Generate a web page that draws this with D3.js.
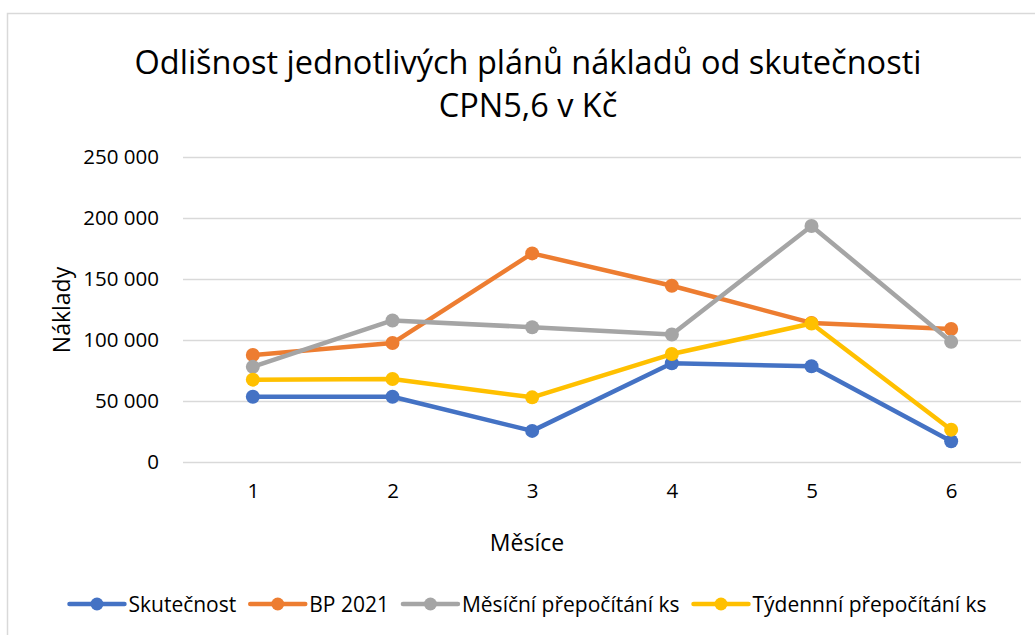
<!DOCTYPE html>
<html>
<head>
<meta charset="utf-8">
<script src="https://cdn.jsdelivr.net/npm/d3@7"></script>
<style>
  body { margin: 0; background: #fff; }
  text { font-family: "Open Sans", "Noto Sans", sans-serif; fill: #000; }
</style>
</head>
<body>
<div id="chart"></div>
<script>
// ---------------- data ----------------
const months = [1, 2, 3, 4, 5, 6];
const skutecnost = [53500, 53500, 25500, 81000, 78500, 17000];
const bp2021 = [87700, 97500, 171000, 144500, 114000, 109000];
const mesicni = [78000, 116000, 110500, 104500, 193500, 98500];
const tydenni = [67500, 68000, 53000, 88500, 113500, 26500];
const yTicks = [0, 50000, 100000, 150000, 200000, 250000];
const seriesNames = ['Skutečnost', 'BP 2021', 'Měsíční přepočítání ks', 'Týdennní přepočítání ks'];

const colors = ['#4472C4', '#ED7D31', '#A5A5A5', '#FFC000'];
const series = [skutecnost, bp2021, mesicni, tydenni].map((vals, i) => ({
  name: seriesNames[i], color: colors[i],
  points: vals.map((v, j) => ({ m: months[j], v: v }))
}));

const totalWidth = 1035, totalHeight = 635;
const plot = { left: 183, right: 1021, top: 157, bottom: 462 };

const svg = d3.select('#chart').append('svg')
  .attr('width', totalWidth)
  .attr('height', totalHeight);

// chart frame
svg.append('rect')
  .attr('x', 7.5).attr('y', 13.5)
  .attr('width', 1100).attr('height', 700)
  .attr('fill', '#fff')
  .attr('stroke', '#d9d9d9')
  .attr('stroke-width', 1.5);

// ---------------- scales ----------------
const xScale = d3.scalePoint()
  .domain(months)
  .range([plot.left, plot.right])
  .padding(0.5);

const yScale = d3.scaleLinear()
  .domain([0, 250000])
  .range([plot.bottom, plot.top]);

const czLocale = d3.formatLocale({ decimal: ',', thousands: ' ', grouping: [3], currency: ['', ' Kč'] });
const fmt = czLocale.format(',d');

// ---------------- gridlines + y axis ----------------
const yAxis = d3.axisLeft(yScale)
  .tickValues(yTicks)
  .tickSize(-(plot.right - plot.left))
  .tickPadding(24)
  .tickFormat(fmt);

const yAxisView = svg.append('g')
  .attr('transform', 'translate(' + plot.left + ',0)')
  .call(yAxis);
yAxisView.select('.domain').remove();
yAxisView.selectAll('line').attr('stroke', '#d9d9d9').attr('stroke-width', 1.5);
yAxisView.selectAll('text')
  .style('font-family', '"Open Sans", sans-serif')
  .style('font-size', '20.5px')
  .attr('fill', '#000');

// ---------------- x axis ----------------
const xAxis = d3.axisBottom(xScale).tickSize(0).tickPadding(21);
const xAxisView = svg.append('g')
  .attr('transform', 'translate(0,' + plot.bottom + ')')
  .call(xAxis);
xAxisView.select('.domain').remove();
xAxisView.selectAll('text')
  .style('font-family', '"Open Sans", sans-serif')
  .style('font-size', '20.5px')
  .attr('fill', '#000');

// ---------------- titles ----------------
const title = svg.append('text')
  .attr('x', 528).attr('text-anchor', 'middle')
  .style('font-size', '32.5px');
title.append('tspan').attr('x', 528).attr('y', 74).text('Odlišnost jednotlivých plánů nákladů od skutečnosti');
title.append('tspan').attr('x', 528).attr('y', 117).text('CPN5,6 v Kč');

svg.append('text')
  .attr('x', 527).attr('y', 551)
  .attr('text-anchor', 'middle')
  .style('font-size', '23px')
  .text('Měsíce');

svg.append('text')
  .attr('transform', 'translate(70,310) rotate(-90)')
  .attr('text-anchor', 'middle')
  .style('font-size', '23px')
  .text('Náklady');

// ---------------- lines ----------------
const line = d3.line()
  .x(d => xScale(d.m))
  .y(d => yScale(d.v));

const seriesGroups = svg.append('g')
  .selectAll('g')
  .data(series)
  .enter()
  .append('g');

seriesGroups.append('path')
  .attr('d', d => line(d.points))
  .attr('fill', 'none')
  .attr('stroke', d => d.color)
  .attr('stroke-width', 4.5)
  .attr('stroke-linejoin', 'round')
  .attr('stroke-linecap', 'round');

seriesGroups.selectAll('circle')
  .data(d => d.points.map(p => ({ m: p.m, v: p.v, color: d.color })))
  .enter()
  .append('circle')
  .attr('cx', d => xScale(d.m))
  .attr('cy', d => yScale(d.v))
  .attr('r', 7)
  .attr('fill', d => d.color);

// ---------------- legend (centered, laid out from text widths) ----------------
const legendY = 604, symbolW = 55, textGap = 4, itemGap = 14;
const legendRoot = svg.append('g');
const legend = legendRoot
  .selectAll('g')
  .data(series)
  .enter()
  .append('g');

legend.append('line')
  .attr('x1', 0).attr('x2', symbolW)
  .attr('stroke', d => d.color)
  .attr('stroke-width', 4.5)
  .attr('stroke-linecap', 'round');
legend.append('circle')
  .attr('cx', symbolW / 2).attr('r', 6.5)
  .attr('fill', d => d.color);
legend.append('text')
  .attr('x', symbolW + textGap).attr('y', 7.5)
  .style('font-size', '21px')
  .text(d => d.name);

let offset = 0;
legend.each(function() {
  const w = d3.select(this).select('text').node().getComputedTextLength();
  d3.select(this).attr('transform', 'translate(' + offset + ',' + legendY + ')');
  offset += symbolW + textGap + w + itemGap;
});
const legendWidth = offset - itemGap;
legendRoot.attr('transform', 'translate(' + (528 - legendWidth / 2) + ',0)');
</script>
</body>
</html>
